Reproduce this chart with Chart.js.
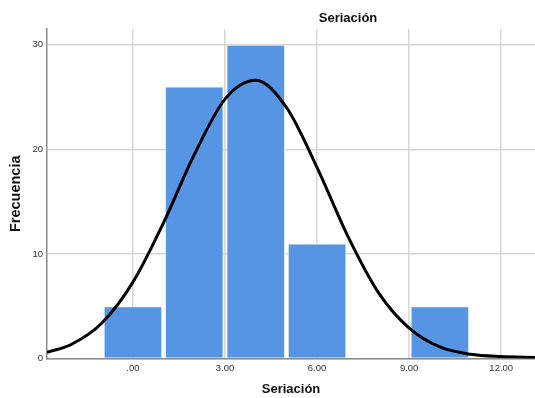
<!DOCTYPE html>
<html>
<head>
<meta charset="utf-8">
<script src="https://cdn.jsdelivr.net/npm/chart.js@4/dist/chart.umd.min.js"></script>
<style>
  html, body { margin: 0; padding: 0; background: #fff; }
  #wrap { width: 535px; height: 398px; }
</style>
</head>
<body>
<div id="wrap"><canvas id="hist"></canvas></div>
<script>
// histogram bins (centres) and counts
const binCentres = [0, 2, 4, 6, 10];
const counts = [5, 26, 30, 11, 5];

// normal curve
const curveX = [-2.8, -2, -1, 0, 1, 2, 3, 4, 5, 6, 7, 8, 9, 10, 11, 12, 13.1];
const curveY = [0.58, 1.36, 3.42, 7.3, 13.0, 19.5, 24.8, 26.6, 24.0, 18.25, 11.7, 6.3, 2.9, 1.1, 0.4, 0.18, 0.1];

// axis ticks
const xTicks = [0, 3, 6, 9, 12];
const yTicks = [0, 10, 20, 30];

const chartTitle = 'Seriación';
const xTitle = 'Seriación';
const yTitle = 'Frecuencia';

// draws the title where SPSS put it (not centred on the plot)
const titlePlugin = {
    id: 'spssTitle',
    afterDraw(chart) {
        const ctx = chart.ctx;
        ctx.save();
        ctx.font = 'bold 13px "Liberation Sans", Arial, sans-serif';
        ctx.fillStyle = '#111';
        ctx.textAlign = 'center';
        ctx.textBaseline = 'middle';
        ctx.fillText(chartTitle, 348, 18);
        ctx.restore();
    }
};

const tickFont = { family: '"Liberation Sans", Arial, sans-serif', size: 9.5 };
const titleFont = { family: '"Liberation Sans", Arial, sans-serif', weight: 'bold' };

new Chart(document.getElementById('hist'), {
    type: 'bar',
    data: {
        datasets: [
            {
                type: 'line',
                data: curveX.map((x, i) => ({ x: x, y: curveY[i] })),
                borderColor: '#000',
                borderWidth: 3,
                pointRadius: 0,
                cubicInterpolationMode: 'monotone',
                fill: false,
                order: 0
            },
            {
                type: 'bar',
                data: binCentres.map((x, i) => ({ x: x, y: counts[i] })),
                backgroundColor: 'rgb(86,149,228)',
                borderColor: 'rgba(225,236,250,0.9)',
                borderWidth: 1,
                barPercentage: 0.955,
                categoryPercentage: 1,
                order: 1
            }
        ]
    },
    options: {
        responsive: true,
        maintainAspectRatio: false,
        animation: false,
        layout: { padding: { top: 29, right: 0, left: 0, bottom: 0 } },
        plugins: {
            legend: { display: false },
            tooltip: { enabled: false }
        },
        scales: {
            x: {
                type: 'linear',
                min: -2.8,
                max: 13.1,
                offset: false,
                afterBuildTicks: s => { s.ticks = xTicks.map(v => ({ value: v })); },
                afterFit: s => { s.height = 39.5; },
                ticks: {
                    font: tickFont,
                    color: '#333',
                    padding: 4,
                    maxRotation: 0,
                    callback: v => v === 0 ? '.00' : v.toFixed(2)
                },
                grid: { color: '#d6d6d6', lineWidth: 1.5, drawTicks: false, offset: false },
                border: { color: '#8c8c8c', width: 1.5 },
                title: {
                    display: true,
                    text: xTitle,
                    font: Object.assign({ size: 13 }, titleFont),
                    color: '#111',
                    padding: { top: 0, bottom: 1 }
                }
            },
            y: {
                min: 0,
                max: 31.5,
                afterBuildTicks: s => { s.ticks = yTicks.map(v => ({ value: v })); },
                afterFit: s => { s.width = 47; },
                ticks: { font: tickFont, color: '#333', padding: 4 },
                grid: { color: '#d6d6d6', lineWidth: 1.5, drawTicks: false },
                border: { color: '#8c8c8c', width: 1.5 },
                title: {
                    display: true,
                    text: yTitle,
                    font: Object.assign({ size: 14.5 }, titleFont),
                    color: '#111',
                    padding: { top: 7, bottom: 0 }
                }
            }
        }
    },
    plugins: [titlePlugin]
});
</script>
</body>
</html>
